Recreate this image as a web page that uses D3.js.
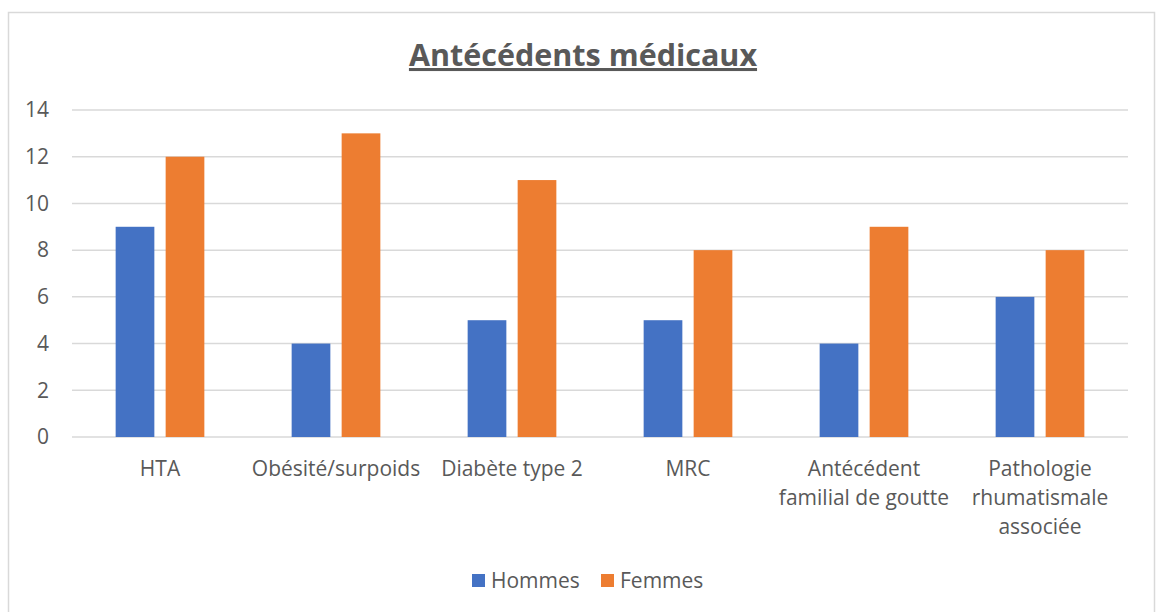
<!DOCTYPE html>
<meta charset="utf-8">
<style>
body { margin: 0; background: #fff; }
text { font-family: "Open Sans", sans-serif; fill: #595959; }
.grid line { stroke: #d9d9d9; stroke-width: 1.5px; }
</style>
<svg width="1156" height="612"></svg>
<script src="https://cdn.jsdelivr.net/npm/d3@7"></script>
<script>

var categories = ["HTA", "Obésité/surpoids", "Diabète type 2", "MRC",
                  "Antécédent|familial de goutte", "Pathologie|rhumatismale|associée"];
var series = ["Hommes", "Femmes"];
var hommes = [9, 4, 5, 5, 4, 6];
var femmes = [12, 13, 11, 8, 9, 8];
var yTicks = [0, 2, 4, 6, 8, 10, 12, 14];

var colors = {Hommes: "#4472c4", Femmes: "#ed7d31"};

var svg = d3.select("svg"),
    margin = {top: 110, right: 28, bottom: 175, left: 72},
    width = 1156 - margin.left - margin.right,
    height = 612 - margin.top - margin.bottom;

// chart border
svg.append("rect")
    .attr("x", 8.5).attr("y", 12.5)
    .attr("width", 1146).attr("height", 620)
    .attr("fill", "none")
    .attr("stroke", "#d9d9d9")
    .attr("stroke-width", 1.5);

svg.append("text")
    .attr("x", 583)
    .attr("y", 66)
    .attr("text-anchor", "middle")
    .style("font-size", "30.5px")
    .style("font-weight", "bold")
    .style("text-decoration", "underline")
    .text("Antécédents médicaux");

var g = svg.append("g").attr("transform", "translate(" + margin.left + "," + margin.top + ")");

var x0 = d3.scaleBand().domain(categories).range([0, width]);
var x1 = d3.scaleBand().domain(series).range([0, x0.bandwidth()])
    .paddingInner(0.226).paddingOuter(0.873);
var y = d3.scaleLinear().domain([0, 14]).range([height, 0]);

// gridlines
g.append("g")
    .attr("class", "grid")
    .selectAll("line")
    .data(yTicks)
    .enter().append("line")
      .attr("x1", 0).attr("x2", width)
      .attr("y1", function(d) { return y(d); })
      .attr("y2", function(d) { return y(d); });

// y tick labels
g.append("g")
    .selectAll("text")
    .data(yTicks)
    .enter().append("text")
      .attr("x", -23)
      .attr("y", function(d) { return y(d); })
      .attr("dy", "0.35em")
      .attr("text-anchor", "end")
      .style("font-size", "21px")
      .text(function(d) { return d; });

var rows = categories.map(function(c, i) {
  return {cat: c, values: [{s: "Hommes", v: hommes[i]}, {s: "Femmes", v: femmes[i]}]};
});

var grp = g.selectAll(".cat")
  .data(rows)
  .enter().append("g")
    .attr("class", "cat")
    .attr("transform", function(d) { return "translate(" + x0(d.cat) + ",0)"; });

grp.selectAll("rect")
  .data(function(d) { return d.values; })
  .enter().append("rect")
    .attr("x", function(d) { return x1(d.s); })
    .attr("width", x1.bandwidth())
    .attr("y", function(d) { return y(d.v); })
    .attr("height", function(d) { return height - y(d.v); })
    .attr("fill", function(d) { return colors[d.s]; });

// category labels (multi-line)
var lab = g.selectAll(".lab")
  .data(categories)
  .enter().append("text")
    .attr("class", "lab")
    .attr("text-anchor", "middle")
    .style("font-size", "21px")
    .attr("transform", function(d) { return "translate(" + (x0(d) + x0.bandwidth() / 2) + "," + (height + 39) + ")"; });

lab.selectAll("tspan")
  .data(function(d) { return d.split("|"); })
  .enter().append("tspan")
    .attr("x", 0)
    .attr("dy", function(d, i) { return i ? 29 : 0; })
    .text(function(d) { return d; });

// legend
var legendX = [472, 601];
var leg = svg.selectAll(".leg")
  .data(series)
  .enter().append("g")
    .attr("class", "leg")
    .attr("transform", function(d, i) { return "translate(" + legendX[i] + ",574)"; });

leg.append("rect")
    .attr("width", 13).attr("height", 13)
    .attr("fill", function(d) { return colors[d]; });

leg.append("text")
    .attr("x", 19)
    .attr("y", 7)
    .attr("dy", "0.35em")
    .style("font-size", "21px")
    .text(function(d) { return d; });

</script>
